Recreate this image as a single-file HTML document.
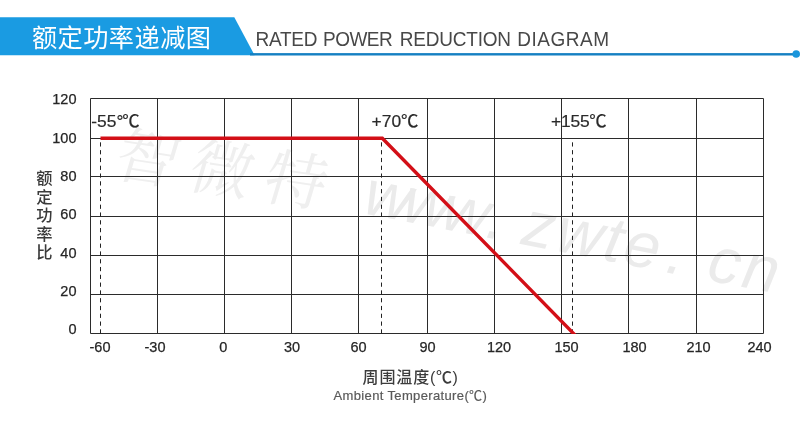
<!DOCTYPE html>
<html lang="zh-CN">
<head>
<meta charset="utf-8">
<title>额定功率递减图 RATED POWER REDUCTION DIAGRAM</title>
<style>
html,body{margin:0;padding:0;background:#fff;}
body{width:800px;height:427px;overflow:hidden;position:relative;font-family:"Liberation Sans","Noto Sans CJK SC",sans-serif;}
svg{position:absolute;left:0;top:0;display:block;}
.t{position:absolute;white-space:nowrap;line-height:1;}
.zh{font-family:"Liberation Sans","Noto Sans CJK SC",sans-serif;}
.title-zh{left:31.9px;top:25.5px;font-size:25.2px;letter-spacing:0.47px;color:#fff;font-family:"Liberation Sans","Noto Sans CJK SC",sans-serif;font-weight:400;}
.title-en{top:30.1px;font-size:19px;color:#484848;transform:scaleY(1.075);transform-origin:50% 50%;}
.yl{font-size:14.5px;color:#262626;-webkit-text-stroke:0.25px #262626;text-align:right;width:40px;left:36.5px;}
.xl{font-size:14.5px;color:#262626;-webkit-text-stroke:0.25px #262626;text-align:center;width:60px;top:340.0px;}
.pt{font-size:17.4px;color:#2a2a2a;-webkit-text-stroke:0.2px #2a2a2a;top:113px;}
.vlab{left:34.4px;width:20px;font-size:16.3px;font-weight:500;color:#3a3a3a;font-family:"Liberation Sans","Noto Sans CJK SC",sans-serif;text-align:center;white-space:normal;line-height:18.6px;top:169.0px;}
.ax-zh{left:362.6px;top:369.7px;font-size:16px;letter-spacing:0.85px;color:#3c3c3c;font-family:"Liberation Sans","Noto Sans CJK SC",sans-serif;font-weight:500;}
.ax-en{left:333.5px;top:388.5px;font-size:13px;color:#5a5a5a;letter-spacing:0.36px;-webkit-text-stroke:0.2px #5a5a5a;}
.wm1{left:126.0px;top:124.6px;font-size:62px;color:#efefef;font-family:"Liberation Serif","Noto Serif CJK SC",serif;letter-spacing:13px;transform:rotate(8.5deg) skewX(-8deg);transform-origin:0 0;}
.wm2{left:372px;top:160px;font-size:64px;color:#ebebeb;font-style:italic;letter-spacing:0;transform:rotate(11deg);transform-origin:0 0;}
.wm2 span{display:inline-block;}
</style>
</head>
<body>
<div class="t wm1">智微特</div>
<div class="t wm2"><span style="letter-spacing:-6.5px">www</span><span style="margin-left:6px;margin-right:18px">.</span><span style="letter-spacing:2.5px">zwte</span><span style="margin-left:6px;margin-right:24px">.</span><span style="letter-spacing:3px">cn</span></div>
<svg width="800" height="427" viewBox="0 0 800 427">
<polygon points="0,17.2 234.3,17.2 254.6,55.3 0,55.3" fill="#1a9be2"/>
<rect x="250" y="53.1" width="545" height="2.4" fill="#1580c2"/>
<circle cx="796.2" cy="54" r="3.8" fill="#1a96dc"/>
<g stroke="#2b2b2b" stroke-width="1" fill="none">
<line x1="90.50" y1="98.50" x2="90.50" y2="333.50"/>
<line x1="157.50" y1="98.50" x2="157.50" y2="333.50"/>
<line x1="224.50" y1="98.50" x2="224.50" y2="333.50"/>
<line x1="291.50" y1="98.50" x2="291.50" y2="333.50"/>
<line x1="358.50" y1="98.50" x2="358.50" y2="333.50"/>
<line x1="427.50" y1="98.50" x2="427.50" y2="333.50"/>
<line x1="494.50" y1="98.50" x2="494.50" y2="333.50"/>
<line x1="561.50" y1="98.50" x2="561.50" y2="333.50"/>
<line x1="628.50" y1="98.50" x2="628.50" y2="333.50"/>
<line x1="696.50" y1="98.50" x2="696.50" y2="333.50"/>
<line x1="763.50" y1="98.50" x2="763.50" y2="333.50"/>
<line x1="90.50" y1="98.50" x2="763.50" y2="98.50"/>
<line x1="90.50" y1="138.50" x2="763.50" y2="138.50"/>
<line x1="90.50" y1="176.50" x2="763.50" y2="176.50"/>
<line x1="90.50" y1="216.50" x2="763.50" y2="216.50"/>
<line x1="90.50" y1="255.50" x2="763.50" y2="255.50"/>
<line x1="90.50" y1="294.50" x2="763.50" y2="294.50"/>
<line x1="90.50" y1="333.50" x2="763.50" y2="333.50"/>
</g>
<g stroke="#222" stroke-width="1" stroke-dasharray="4.2 3.59" fill="none">
<line x1="100.5" y1="333.5" x2="100.5" y2="142"/>
<line x1="381.5" y1="333.5" x2="381.5" y2="142"/>
<line x1="572.5" y1="333.5" x2="572.5" y2="142"/>
</g>
<clipPath id="cl"><rect x="0" y="0" width="800" height="334.1"/></clipPath><polyline clip-path="url(#cl)" points="100.5,138.2 382.3,138.2 579.75,339.87" fill="none" stroke="#d30f17" stroke-width="3.4" stroke-linejoin="miter" stroke-linecap="butt"/>
</svg>
<div class="t title-zh">额定功率递减图</div>
<div class="t title-en" style="left:255.6px;letter-spacing:-0.3px">RATED</div>
<div class="t title-en" style="left:323.1px;letter-spacing:-0.54px">POWER</div>
<div class="t title-en" style="left:399.7px;letter-spacing:-0.2px">REDUCTION</div>
<div class="t title-en" style="left:517.2px;letter-spacing:0.52px">DIAGRAM</div>
<div class="t yl" style="top:91.8px">120</div>
<div class="t yl" style="top:130.5px">100</div>
<div class="t yl" style="top:168.8px">80</div>
<div class="t yl" style="top:207.2px">60</div>
<div class="t yl" style="top:245.8px">40</div>
<div class="t yl" style="top:284.2px">20</div>
<div class="t yl" style="top:322.2px">0</div>
<div class="t xl" style="left:70.0px">-60</div>
<div class="t xl" style="left:125.0px">-30</div>
<div class="t xl" style="left:193.3px">0</div>
<div class="t xl" style="left:262.0px">30</div>
<div class="t xl" style="left:328.6px">60</div>
<div class="t xl" style="left:397.6px">90</div>
<div class="t xl" style="left:469.0px">120</div>
<div class="t xl" style="left:536.5px">150</div>
<div class="t xl" style="left:604.6px">180</div>
<div class="t xl" style="left:668.5px">210</div>
<div class="t xl" style="left:729.6px">240</div>
<div class="t pt" style="left:91.3px">-55<span style="margin-right:-1.2px">°</span>℃</div>
<div class="t pt" style="left:371.6px">+70℃</div>
<div class="t pt" style="left:551px;letter-spacing:-0.2px">+155℃</div>
<div class="t vlab">额<br>定<br>功<br>率<br>比</div>
<div class="t ax-zh">周围温度<span style="letter-spacing:0.6px">(℃)</span></div>
<div class="t ax-en">Ambient Temperature(℃)</div>
</body>
</html>
